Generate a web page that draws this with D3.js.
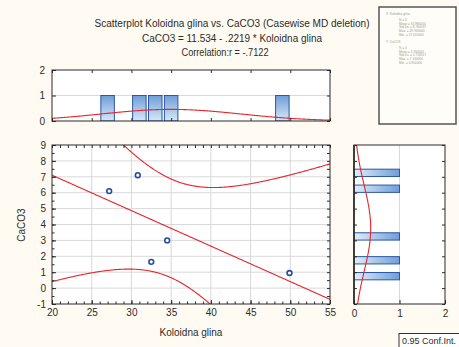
<!DOCTYPE html>
<html><head><meta charset="utf-8">
<script src="https://cdn.jsdelivr.net/npm/d3@7"></script>
<style>
html,body{margin:0;padding:0;background:#FFFBF2;}
svg{display:block;font-family:"Liberation Sans",Arial,sans-serif;}
</style></head>
<body><svg id="c" width="459" height="347"></svg>
<script>
// ---- data ----
const koloidnaGlina = [27.2, 30.8, 32.5, 34.5, 49.9];
const caco3        = [6.1, 7.1, 1.65, 3.0, 0.95];
const xTicks = [20, 25, 30, 35, 40, 45, 50, 55];
const yTicks = [-1, 0, 1, 2, 3, 4, 5, 6, 7, 8, 9];
const histTicks = [0, 1, 2];
const xBinWidth = 2;      // histogram bin width, x variable
const yBinWidth = 0.5;    // histogram bin width, y variable
const tCrit = 3.182;      // t(0.975, df = n-2 = 3)
const titleLines = [
  "Scatterplot Koloidna glina vs. CaCO3 (Casewise MD deletion)",
  "CaCO3 = 11.534 - .2219  * Koloidna glina",
  "Correlation:r = -.7122"
];
const xName = "Koloidna glina", yName = "CaCO3";

(function () {
// ---- layout ----
const svg = d3.select("#c");
const x  = d3.scaleLinear([20, 55], [52, 330]);
const y  = d3.scaleLinear([-1, 9], [304, 145]);
const hy = d3.scaleLinear([0, 2], [121, 70]);
const hx = d3.scaleLinear([0, 2], [354, 445]);
const red = "#E8232B", gridC = "#D9D9D9", frameC = "#2a2a2a", txtC = "#2b2b2b";
const barStroke = "#2C56A6";
const fmt = d => String(d);

const defs = svg.append("defs");
const g1 = defs.append("linearGradient").attr("id","gv").attr("x1",0).attr("y1",0).attr("x2",0).attr("y2",1);
g1.append("stop").attr("offset","0%").attr("stop-color","#6E9ED8");
g1.append("stop").attr("offset","100%").attr("stop-color","#D9E8F7");
const g2 = defs.append("linearGradient").attr("id","gh").attr("x1",0).attr("y1",0).attr("x2",1).attr("y2",0);
g2.append("stop").attr("offset","0%").attr("stop-color","#E2EEF9");
g2.append("stop").attr("offset","100%").attr("stop-color","#6E9ED8");
defs.append("clipPath").attr("id","cm").append("rect")
  .attr("x",52).attr("y",145).attr("width",278).attr("height",159);
defs.append("clipPath").attr("id","ct").append("rect")
  .attr("x",52).attr("y",70).attr("width",278).attr("height",51);
defs.append("clipPath").attr("id","cr").append("rect")
  .attr("x",354).attr("y",145).attr("width",91).attr("height",159);

// ---- title ----
const tt = svg.append("g").attr("fill", txtC).attr("font-size", 10).attr("text-anchor","middle");
tt.append("text").attr("x",232).attr("y",27).attr("textLength",275).attr("lengthAdjust","spacingAndGlyphs").text(titleLines[0]);
tt.append("text").attr("x",232).attr("y",42).attr("textLength",180).attr("lengthAdjust","spacingAndGlyphs").text(titleLines[1]);
tt.append("text").attr("x",225).attr("y",56).attr("textLength",87).attr("lengthAdjust","spacingAndGlyphs").text(titleLines[2]);

// ---- stats box ----
const n = koloidnaGlina.length;
const f6 = d3.format(".6f");
const statLines = (lab, v) => [lab, "N = " + v.length, "Mean = " + f6(d3.mean(v)),
  "Std.Dv. = " + f6(d3.deviation(v)), "Max. = " + f6(d3.max(v)), "Min. = " + f6(d3.min(v))];
svg.append("rect").attr("x",379).attr("y",7).attr("width",77).attr("height",117)
  .attr("fill","#FFFDF7").attr("stroke","#555").attr("stroke-width",1.5);
const sb = svg.append("g").attr("fill","#999").attr("font-size",3.2);
[[statLines("X:  " + xName, koloidnaGlina), 15], [statLines("Y:  " + yName, caco3), 43]].forEach(([lines, y0]) => {
  lines.forEach((s, i) => {
    sb.append("text").attr("x", i === 0 ? 386 : 399).attr("y", y0 + (i === 0 ? 0 : 2.5 + i * 3.6)).text(s);
  });
});

// ---- plot backgrounds ----
svg.append("rect").attr("x",52).attr("y",70).attr("width",278).attr("height",51).attr("fill","#fff");
svg.append("rect").attr("x",52).attr("y",145).attr("width",278).attr("height",159).attr("fill","#fff");
svg.append("rect").attr("x",354).attr("y",145).attr("width",91).attr("height",159).attr("fill","#fff");

// ---- grids ----
const grid = svg.append("g").attr("stroke", gridC).attr("stroke-width",1);
grid.selectAll(".gv").data(xTicks.slice(1,-1)).join("line").attr("class","gv")
  .attr("x1",d=>x(d)).attr("x2",d=>x(d)).attr("y1",145).attr("y2",304);
grid.selectAll(".gh").data(yTicks.slice(1,-1)).join("line").attr("class","gh")
  .attr("y1",d=>y(d)).attr("y2",d=>y(d)).attr("x1",52).attr("x2",330);
grid.append("line").attr("x1",52).attr("x2",330).attr("y1",hy(1)).attr("y2",hy(1));
grid.append("line").attr("y1",145).attr("y2",304).attr("x1",hx(1)).attr("x2",hx(1));

// ---- regression & confidence band ----
const mx = d3.mean(koloidnaGlina), my = d3.mean(caco3);
const sxx = d3.sum(koloidnaGlina, v => (v - mx) ** 2);
const sxy = d3.sum(koloidnaGlina, (v, i) => (v - mx) * (caco3[i] - my));
const b = sxy / sxx, a = my - b * mx;
const sse = d3.sum(koloidnaGlina, (v, i) => (caco3[i] - a - b * v) ** 2);
const s = Math.sqrt(sse / (n - 2));
const xs = d3.range(20, 55.001, 0.1);
const half = v => tCrit * s * Math.sqrt(1 / n + (v - mx) ** 2 / sxx);
const mainG = svg.append("g").attr("clip-path","url(#cm)");
const line = d3.line().x(d => x(d[0])).y(d => y(d[1]));
mainG.append("path").attr("d", line(xs.map(v => [v, a + b * v]))).attr("fill","none").attr("stroke",red).attr("stroke-width",1.1);
mainG.append("path").attr("d", line(xs.map(v => [v, a + b * v + half(v)]))).attr("fill","none").attr("stroke",red).attr("stroke-width",1.1);
mainG.append("path").attr("d", line(xs.map(v => [v, a + b * v - half(v)]))).attr("fill","none").attr("stroke",red).attr("stroke-width",1.1);

// ---- points ----
mainG.selectAll("circle").data(koloidnaGlina).join("circle")
  .attr("cx", d => x(d)).attr("cy", (d, i) => y(caco3[i])).attr("r", 2.4)
  .attr("fill","#fff").attr("stroke","#2A4BA2").attr("stroke-width",1.6);

// ---- top histogram ----
const binsX = d3.bin().domain([20, 55]).thresholds(d3.range(20, 55, xBinWidth))(koloidnaGlina).filter(d => d.length);
const topG = svg.append("g").attr("clip-path","url(#ct)");
topG.selectAll("rect").data(binsX).join("rect")
  .attr("x", d => x(d.x0 + 0.15)).attr("width", d => x(d.x1 - 0.15) - x(d.x0 + 0.15))
  .attr("y", d => hy(d.length)).attr("height", d => hy(0) - hy(d.length))
  .attr("fill","url(#gv)").attr("stroke",barStroke).attr("stroke-width",1);
const sdx = d3.deviation(koloidnaGlina), sdy = d3.deviation(caco3);
const pdf = (v, m, sd) => Math.exp(-0.5 * ((v - m) / sd) ** 2) / (sd * Math.sqrt(2 * Math.PI));
topG.append("path").attr("d", d3.line().x(d => x(d)).y(d => hy(n * xBinWidth * pdf(d, mx, sdx)))(xs))
  .attr("fill","none").attr("stroke",red).attr("stroke-width",1.1);

// ---- right histogram ----
const binsY = d3.bin().domain([-1, 9]).thresholds(d3.range(-1, 9, yBinWidth))(caco3).filter(d => d.length);
const rgtG = svg.append("g").attr("clip-path","url(#cr)");
rgtG.selectAll("rect").data(binsY).join("rect")
  .attr("x", hx(0)).attr("width", d => hx(d.length) - hx(0))
  .attr("y", d => y(d.x1 - 0.02)).attr("height", d => y(d.x0 + 0.02) - y(d.x1 - 0.02))
  .attr("fill","url(#gh)").attr("stroke",barStroke).attr("stroke-width",1);
const ys = d3.range(-1, 9.001, 0.05);
rgtG.append("path").attr("d", d3.line().x(d => hx(n * yBinWidth * pdf(d, my, sdy))).y(d => y(d))(ys))
  .attr("fill","none").attr("stroke",red).attr("stroke-width",1.1);

// ---- frames ----
const fr = svg.append("g").attr("fill","none").attr("stroke",frameC).attr("stroke-width",1);
fr.append("rect").attr("x",52).attr("y",70).attr("width",278).attr("height",51);
fr.append("rect").attr("x",52).attr("y",145).attr("width",278).attr("height",159);
fr.append("rect").attr("x",354).attr("y",145).attr("width",91).attr("height",159);

// ---- axes ----
function styleAxis(g) { g.select(".domain").remove(); g.selectAll("line").attr("stroke", frameC);
  g.selectAll("text").attr("fill", txtC).attr("font-size", 10).attr("font-family","Liberation Sans, Arial, sans-serif"); }
const minorX = d3.range(20, 55.01, 1), minorY = d3.range(-1, 9.01, 0.5);
// main plot
svg.append("g").attr("transform","translate(0,304)")
  .call(d3.axisBottom(x).tickValues(xTicks).tickFormat(fmt).tickSizeInner(-4).tickSizeOuter(0).tickPadding(5)).call(styleAxis);
svg.append("g").attr("transform","translate(0,304)")
  .call(d3.axisBottom(x).tickValues(minorX).tickSizeInner(-2.5).tickSizeOuter(0).tickFormat("")).call(styleAxis);
svg.append("g").attr("transform","translate(0,145)")
  .call(d3.axisTop(x).tickValues(minorX).tickSizeInner(-3).tickSizeOuter(0).tickFormat("")).call(styleAxis);
svg.append("g").attr("transform","translate(52,0)")
  .call(d3.axisLeft(y).tickValues(yTicks).tickFormat(fmt).tickSizeInner(-4).tickSizeOuter(0).tickPadding(6)).call(styleAxis);
svg.append("g").attr("transform","translate(52,0)")
  .call(d3.axisLeft(y).tickValues(minorY).tickSizeInner(-2.5).tickSizeOuter(0).tickFormat("")).call(styleAxis);
svg.append("g").attr("transform","translate(330,0)")
  .call(d3.axisRight(y).tickValues(minorY).tickSizeInner(-3).tickSizeOuter(0).tickFormat("")).call(styleAxis);
// top histogram
svg.append("g").attr("transform","translate(52,0)")
  .call(d3.axisLeft(hy).tickValues(histTicks).tickFormat(fmt).tickSizeInner(-4).tickSizeOuter(0).tickPadding(7)).call(styleAxis);
svg.append("g").attr("transform","translate(330,0)")
  .call(d3.axisRight(hy).tickValues(histTicks).tickSizeInner(-3).tickSizeOuter(0).tickFormat("")).call(styleAxis);
svg.append("g").attr("transform","translate(0,70)")
  .call(d3.axisTop(x).tickValues(xTicks).tickSizeInner(-3).tickSizeOuter(0).tickFormat("")).call(styleAxis);
svg.append("g").attr("transform","translate(0,121)")
  .call(d3.axisBottom(x).tickValues(xTicks).tickSizeInner(-3).tickSizeOuter(0).tickFormat("")).call(styleAxis);
// right histogram
svg.append("g").attr("transform","translate(0,304)")
  .call(d3.axisBottom(hx).tickValues(histTicks).tickFormat(fmt).tickSizeInner(-4).tickSizeOuter(0).tickPadding(6)).call(styleAxis);
svg.append("g").attr("transform","translate(354,0)")
  .call(d3.axisLeft(y).tickValues(yTicks).tickSizeInner(-3).tickSizeOuter(0).tickFormat("")).call(styleAxis);
svg.append("g").attr("transform","translate(445,0)")
  .call(d3.axisRight(y).tickValues(yTicks).tickSizeInner(-3).tickSizeOuter(0).tickFormat("")).call(styleAxis);
svg.append("line").attr("x1",354).attr("x2",354).attr("y1",145).attr("y2",304).attr("stroke",frameC).attr("stroke-width",1.6);

// ---- axis titles ----
svg.append("text").attr("x",191).attr("y",336).attr("text-anchor","middle").attr("font-size",10).attr("fill",txtC).text(xName);
svg.append("text").attr("transform","translate(25,225) rotate(-90)").attr("text-anchor","middle").attr("font-size",10).attr("fill",txtC).text(yName);

// ---- conf. int. box ----
svg.append("rect").attr("x",399).attr("y",333.5).attr("width",70).attr("height",16).attr("fill","#fff").attr("stroke","#333").attr("stroke-width",1);
svg.append("text").attr("x",402).attr("y",344).attr("font-size",9).attr("fill",txtC).text("0.95 Conf.Int.");
})();
</script></body></html>
